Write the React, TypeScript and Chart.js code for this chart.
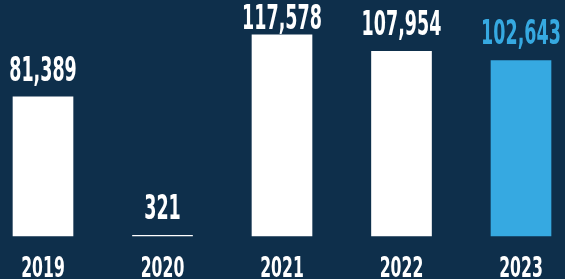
import React, { useEffect, useRef } from "react";
import { Chart, registerables } from "chart.js";

Chart.register(...registerables);

const categories = ["2019", "2020", "2021", "2022", "2023"];
const values = [81389, 321, 117578, 107954, 102643];
const barColors = ["#ffffff", "#ffffff", "#ffffff", "#ffffff", "#36a9e1"];
const labelColors = ["#ffffff", "#ffffff", "#ffffff", "#ffffff", "#36a9e1"];

const BG = "#0e2f4b";
const FONT = '"DejaVu Sans Condensed", "DejaVu Sans", sans-serif';

const labelPlugin = {
  id: "labels",
  afterDatasetsDraw(chart: any) {
    const ctx = chart.ctx;
    const meta = chart.getDatasetMeta(0);
    const xScale = chart.scales.x;
    ctx.save();
    ctx.textAlign = "center";
    ctx.textBaseline = "alphabetic";
    meta.data.forEach((bar: any, i: number) => {
      const text = values[i].toLocaleString("en-US");
      const baseline = Math.max(bar.y - 16, 29);
      ctx.save();
      ctx.translate(bar.x, baseline);
      ctx.scale(0.59, 1);
      ctx.font = `bold 33px ${FONT}`;
      ctx.fillStyle = labelColors[i];
      ctx.fillText(text, 0, 0);
      ctx.restore();

      ctx.save();
      ctx.translate(xScale.getPixelForValue(i), 277);
      ctx.scale(0.6, 1);
      ctx.font = `bold 29px ${FONT}`;
      ctx.fillStyle = "#ffffff";
      ctx.fillText(categories[i], 0, 0);
      ctx.restore();
    });
    ctx.restore();
  },
};

export default function App() {
  const ref = useRef<HTMLCanvasElement>(null);
  useEffect(() => {
    if (!ref.current) return;
    const chart = new Chart(ref.current, {
      type: "bar",
      data: {
        labels: categories,
        datasets: [
          {
            data: values,
            backgroundColor: barColors,
            borderWidth: 0,
            barThickness: 60,
            clip: false,
          },
        ],
      },
      options: {
        animation: false,
        responsive: true,
        maintainAspectRatio: false,
        layout: { padding: { left: 43, right: 44, top: 0, bottom: 43 } },
        plugins: { legend: { display: false }, tooltip: { enabled: false } },
        scales: {
          x: { display: false, offset: false, grid: { display: false } },
          y: { display: false, min: 0, max: 138000 },
        },
      },
      plugins: [labelPlugin],
    });
    return () => chart.destroy();
  }, []);
  return (
    <div
      style={{
        position: "fixed",
        left: 0,
        top: 0,
        width: 565,
        height: 279,
        background: BG,
      }}
    >
      <canvas ref={ref} />
    </div>
  );
}
